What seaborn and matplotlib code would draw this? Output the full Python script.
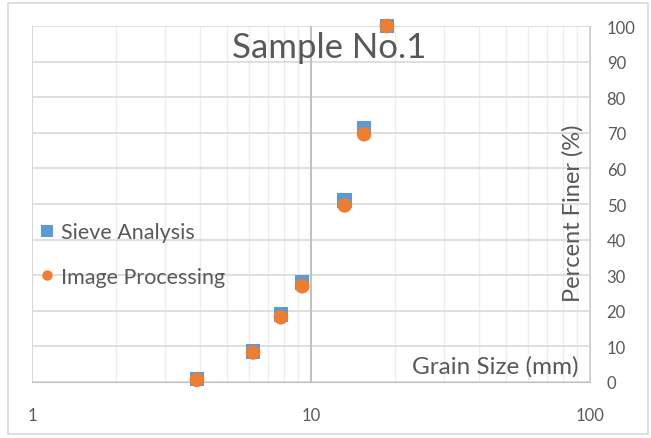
import numpy as np
import pandas as pd
import seaborn as sns
import matplotlib.pyplot as plt
from matplotlib.ticker import LogLocator, NullFormatter, FixedLocator
from matplotlib.patches import Rectangle

# === Data ===
grain_size = [3.9, 6.2, 7.8, 9.3, 13.2, 15.5, 18.7]
sieve_finer = [0.8, 8.6, 19.0, 28.0, 51.0, 71.3, 100.0]
image_finer = [0.6, 8.3, 18.2, 26.9, 49.6, 69.6, 100.0]
series_names = ["Sieve Analysis", "Image Processing"]
y_ticks = [0, 10, 20, 30, 40, 50, 60, 70, 80, 90, 100]
x_ticks = [1, 10, 100]

df = pd.DataFrame({
    "size": grain_size * 2,
    "finer": sieve_finer + image_finer,
    "method": [series_names[0]] * len(grain_size) + [series_names[1]] * len(grain_size),
})

sns.set_style("white")
plt.rcParams["font.family"] = ["Lato", "DejaVu Sans"]
text_col = "#595959"

fig = plt.figure(figsize=(6.51, 4.39), dpi=100)
ax = fig.add_axes([32 / 651, 1 - 383 / 439, 558 / 651, 356 / 439])

sns.scatterplot(data=df, x="size", y="finer", hue="method", style="method",
                markers={series_names[0]: "s", series_names[1]: "o"},
                palette={series_names[0]: "#5B9BD5", series_names[1]: "#ED7D31"},
                s=110, linewidth=0, ax=ax, clip_on=False, zorder=5, legend=True)

ax.set_xscale("log")
ax.set_xlim(1, 100)
ax.set_ylim(0, 100)

# gridlines
ax.xaxis.set_major_locator(FixedLocator(x_ticks))
ax.xaxis.set_minor_locator(LogLocator(base=10, subs=np.arange(2, 10)))
ax.xaxis.set_minor_formatter(NullFormatter())
ax.set_xticklabels([str(t) for t in x_ticks])
ax.set_yticks(y_ticks)
ax.grid(which="major", axis="y", color="#D9D9D9", lw=1.2)
ax.grid(which="minor", axis="x", color="#EDEDED", lw=1.0)
ax.grid(which="major", axis="x", color="#D0D0D0", lw=1.2)
ax.axvline(10, color="#BFBFBF", lw=1.3, zorder=1)
for side in ["top", "left"]:
    ax.spines[side].set_visible(False)
ax.spines["bottom"].set_color("#BFBFBF")
ax.spines["right"].set_color("#D0D0D0")
ax.set_axisbelow(True)

ax.yaxis.tick_right()
ax.tick_params(axis="y", which="both", length=0, pad=12, labelsize=12, labelcolor=text_col)
ax.tick_params(axis="x", which="both", length=0, pad=18, labelsize=12, labelcolor=text_col)

ax.set_xlabel("")
ax.set_ylabel("")
ax.text(0.98, 0.045, "Grain Size (mm)", transform=ax.transAxes, ha="right", va="center",
        fontsize=17.5, color=text_col)
ax.text(0.97, 0.478, "Percent Finer (%)", transform=ax.transAxes, ha="center", va="center",
        rotation=90, fontsize=17, color=text_col)
ax.text(0.532, 0.941, "Sample No.1", transform=ax.transAxes, ha="center", va="center",
        fontsize=25, color=text_col)

leg = ax.legend(loc="center left", bbox_to_anchor=(-0.028, 0.358), frameon=False,
                fontsize=15.5, labelcolor=text_col, handletextpad=0.15, labelspacing=1.15,
                markerscale=1.0, handlelength=1.0)
for h, ms in zip(leg.legend_handles, [8, 7.5]):
    h.set_markersize(ms)

fig.add_artist(Rectangle((8 / 651, 4 / 439), 640 / 651, 431 / 439, transform=fig.transFigure,
                         fill=False, edgecolor="#D9D9D9", lw=1.2))

fig.savefig("out.png", dpi=100)
